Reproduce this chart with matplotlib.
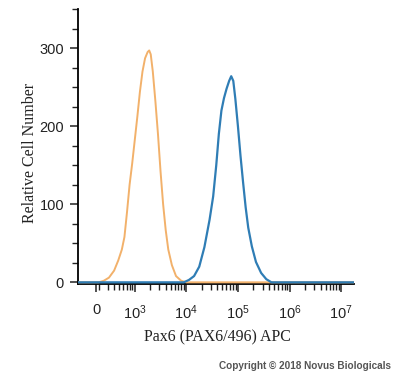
import numpy as np
import matplotlib
matplotlib.use("Agg")
import matplotlib.pyplot as plt

# ======================================================
# DATA (x in decades of the biexponential display, y = cell count)
# ======================================================

isotype_x = [1.90, 2.20, 2.30, 2.40, 2.50, 2.60, 2.68, 2.75, 2.80, 2.85, 2.90,
             2.95, 3.00, 3.05, 3.10, 3.15, 3.20, 3.25, 3.28, 3.31, 3.35, 3.40,
             3.45, 3.50, 3.55, 3.60, 3.65, 3.72, 3.80, 3.90, 4.00, 5.0, 6.0, 7.3]
isotype_y = [0, 0, 0, 2, 6, 15, 28, 42, 58, 90, 125,
             152, 182, 212, 244, 270, 287, 295, 297, 292, 270, 232,
             190, 142, 100, 67, 42, 22, 8, 2, 0, 0, 0, 0]

pax6_x = [1.90, 3.0, 3.95, 4.05, 4.15, 4.25, 4.35, 4.45, 4.52, 4.58, 4.63,
          4.68, 4.73, 4.78, 4.83, 4.87, 4.91, 4.95, 5.00, 5.05, 5.10, 5.15,
          5.20, 5.27, 5.35, 5.45, 5.55, 5.65, 6.0, 7.3]
pax6_y = [0, 0, 0, 3, 8, 20, 45, 80, 110, 150, 190,
          220, 236, 248, 258, 264, 258, 235, 200, 162, 128, 96,
          70, 46, 26, 12, 4, 0, 0, 0]

xtick_pos = [2.25, 3, 4, 5, 6, 7]
xtick_labels = ["0", "$10^3$", "$10^4$", "$10^5$", "$10^6$", "$10^7$"]
ytick_pos = [0, 100, 200, 300]

# ======================================================
# FIGURE
# ======================================================

plt.rcParams["font.family"] = "Liberation Sans"
plt.rcParams["mathtext.fontset"] = "custom"
plt.rcParams["mathtext.rm"] = "Liberation Sans"
plt.rcParams["mathtext.it"] = "Liberation Sans"

fig = plt.figure(figsize=(4.0, 3.78), dpi=100)
ax = fig.add_axes([0.195, 0.249, 0.69, 0.727])

ax.plot(isotype_x, isotype_y, color="#F2B16B", lw=1.4, zorder=3)
ax.plot(pax6_x, pax6_y, color="#2F7DB5", lw=1.6, zorder=4)

ax.set_xlim(1.9, 7.25)
ax.set_ylim(-2, 350)

for s in ["top", "right"]:
    ax.spines[s].set_visible(False)
ax.spines["left"].set_linewidth(1.3)
ax.spines["bottom"].set_linewidth(1.3)

ax.set_yticks(ytick_pos)
ax.set_yticks(np.arange(0, 351, 25), minor=True)
ax.set_xticks(xtick_pos)
ax.set_xticklabels(xtick_labels)

minor_x = [d + np.log10(k) for d in range(2, 7) for k in range(2, 10)]
ax.set_xticks([m for m in minor_x if m > 1.9], minor=True)

ax.tick_params(axis="both", which="major", length=6, width=1.1, labelsize=10.5,
               colors="#222222")
ax.tick_params(axis="both", which="minor", length=4, width=1.0, colors="#222222")
ax.tick_params(axis="x", which="major", pad=8)
ax.tick_params(axis="y", which="major", pad=4)

fig.text(0.075, 0.595, "Relative Cell Number", rotation=90, ha="center",
         va="center", family="Liberation Serif", fontsize=11.5, color="#222222")
fig.text(0.543, 0.108, "Pax6 (PAX6/496) APC", ha="center", va="center",
         family="Liberation Serif", fontsize=11.5, color="#222222")
fig.text(0.7625, 0.032, "Copyright \u00a9 2018 Novus Biologicals", ha="center",
         va="center", fontsize=7.2, fontweight="bold", color="#555555")

fig.savefig("out.png", dpi=100)
